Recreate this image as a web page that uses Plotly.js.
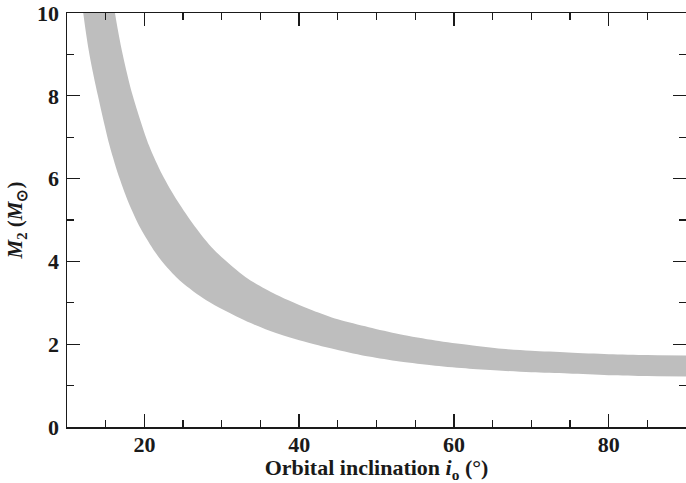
<!DOCTYPE html>
<html>
<head>
<meta charset="utf-8">
<script src="https://cdn.plot.ly/plotly-3.0.1.min.js"></script>
<style>html,body{margin:0;padding:0;background:#fff;}#chart{width:686px;height:483px;}</style>
</head>
<body>
<div id="chart"></div>
<script>
// Upper boundary of the allowed band (inclination in degrees, M2 in solar masses)
var upperIncl = [15.8, 16.2, 17.2, 18.5, 20.6, 22.3, 24.3, 26.5, 29.0, 33.1, 37.0, 41.7, 45.0, 49.0, 53.0, 57.6, 62.0, 66.2, 70.0, 74.8, 80.0, 85.0, 90.0];
var upperM2   = [10.6, 10.0, 9.0, 8.0, 6.8, 6.1, 5.45, 4.85, 4.28, 3.62, 3.2, 2.82, 2.6, 2.41, 2.24, 2.09, 1.98, 1.89, 1.84, 1.80, 1.76, 1.74, 1.73];
// Lower boundary
var lowerIncl = [11.8, 12.1, 12.9, 14.0, 15.5, 16.8, 18.0, 19.5, 21.4, 23.0, 24.8, 28.0, 33.0, 37.0, 41.7, 45.0, 49.0, 53.0, 57.6, 62.0, 66.2, 70.0, 74.8, 80.0, 85.0, 90.0];
var lowerM2   = [10.6, 10.0, 9.0, 8.0, 6.8, 6.0, 5.4, 4.8, 4.22, 3.84, 3.5, 3.06, 2.57, 2.27, 2.01, 1.86, 1.70, 1.58, 1.48, 1.41, 1.36, 1.32, 1.29, 1.25, 1.23, 1.22];

var xTickVals = [20, 40, 60, 80];
var yTickVals = [0, 2, 4, 6, 8, 10];

var lowerTrace = {
  x: lowerIncl, y: lowerM2,
  type: 'scatter', mode: 'lines',
  line: {width: 0, color: 'rgba(0,0,0,0)', shape: 'spline', smoothing: 0.8},
  hoverinfo: 'skip', showlegend: false
};
var upperTrace = {
  x: upperIncl, y: upperM2,
  type: 'scatter', mode: 'lines',
  fill: 'tonexty', fillcolor: '#bebebe',
  line: {width: 0, color: 'rgba(0,0,0,0)', shape: 'spline', smoothing: 0.8},
  hoverinfo: 'skip', showlegend: false
};

var fam = 'Liberation Serif, Times New Roman, serif';

var layout = {
  width: 686, height: 483,
  margin: {l: 67, r: 0, t: 13, b: 56},
  paper_bgcolor: '#fff', plot_bgcolor: '#fff',
  showlegend: false,
  xaxis: {
    range: [10, 90],
    tickvals: xTickVals, ticktext: xTickVals.map(function(v){return '<b>' + v + '</b>';}),
    ticks: 'inside', ticklen: 13, tickwidth: 1.3, tickcolor: '#1a1a1a',
    minor: {dtick: 5, tick0: 0, ticks: 'inside', ticklen: 7, tickwidth: 1.3, tickcolor: '#1a1a1a'},
    showline: true, linecolor: '#1a1a1a', linewidth: 1.5, mirror: 'ticks',
    showgrid: false, zeroline: false,
    tickfont: {family: fam, size: 22, color: '#1a1a1a'},
    ticklabelstandoff: -3,
    title: {text: '<b>Orbital inclination <i>i</i><sub>o</sub> (°)</b>', font: {family: fam, size: 22, color: '#1a1a1a'}, standoff: 9}
  },
  yaxis: {
    range: [0, 10],
    tickvals: yTickVals, ticktext: yTickVals.map(function(v){return '<b>' + v + '</b>';}),
    ticks: 'inside', ticklen: 13, tickwidth: 1.3, tickcolor: '#1a1a1a',
    minor: {dtick: 1, tick0: 0, ticks: 'inside', ticklen: 7, tickwidth: 1.3, tickcolor: '#1a1a1a'},
    showline: true, linecolor: '#1a1a1a', linewidth: 1.5, mirror: 'ticks',
    showgrid: false, zeroline: false,
    tickfont: {family: fam, size: 22, color: '#1a1a1a'},
    ticklabelstandoff: 2,
    title: {text: '<b><i>M</i><sub>2</sub> (<i>M</i><sub>⊙</sub>)</b>', font: {family: fam, size: 21, color: '#1a1a1a'}, standoff: 8}
  }
};

Plotly.newPlot('chart', [lowerTrace, upperTrace], layout, {staticPlot: true, displayModeBar: false});
</script>
</body>
</html>
